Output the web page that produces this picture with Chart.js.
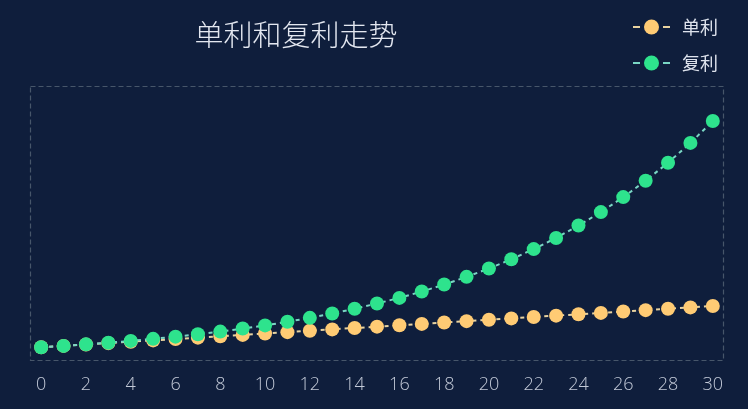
<!DOCTYPE html>
<html>
<head>
<meta charset="utf-8">
<script src="https://cdn.jsdelivr.net/npm/chart.js@4"></script>
<style>
html,body{margin:0;padding:0;background:#0f1e3c;}
#wrap{width:748px;height:409px;position:relative;}
</style>
</head>
<body>
<div id="wrap"><canvas id="c"></canvas></div>
<script>
const titleText = '单利和复利走势';
const years = ['0','1','2','3','4','5','6','7','8','9','10','11','12','13','14','15','16','17','18','19','20','21','22','23','24','25','26','27','28','29','30'];
const simpleLabel = '单利';
const compoundLabel = '复利';
const simpleValues = [1,1.1,1.2,1.3,1.4,1.5,1.6,1.7,1.8,1.9,2,2.1,2.2,2.3,2.4,2.5,2.6,2.7,2.8,2.9,3,3.1,3.2,3.3,3.4,3.5,3.6,3.7,3.8,3.9,4];
const compoundValues = [1,1.1,1.21,1.33,1.46,1.61,1.77,1.95,2.14,2.36,2.59,2.85,3.14,3.45,3.8,4.18,4.59,5.05,5.56,6.12,6.73,7.4,8.14,8.95,9.85,10.83,11.92,13.11,14.42,15.86,17.45];
const yMin = 0, yMax = 20;

const simpleColor = '#ffcb74';
const simpleLine = '#e9d3a0';
const compoundColor = '#2ee38d';
const compoundLine = '#79d6c4';

const decor = {
  id: 'decor',
  beforeDraw(chart) {
    const {ctx, chartArea: a} = chart;
    ctx.save();
    ctx.strokeStyle = '#47566a';
    ctx.lineWidth = 1.2;
    ctx.setLineDash([5, 3]);
    ctx.strokeRect(a.left + 0.5, a.top + 0.5, a.right - a.left - 1, a.bottom - a.top - 1);
    ctx.restore();
  },
  afterDraw(chart) {
    const ctx = chart.ctx;
    ctx.save();
    ctx.fillStyle = '#e3e7f0';
    ctx.font = '300 29px "Noto Sans CJK SC", sans-serif';
    ctx.textAlign = 'center';
    ctx.textBaseline = 'middle';
    ctx.fillText(titleText, 296, 35);
    const items = [
      {text: chart.data.datasets[0].label, point: simpleColor, line: simpleLine, y: 27},
      {text: chart.data.datasets[1].label, point: compoundColor, line: compoundLine, y: 63}
    ];
    items.forEach(it => {
      ctx.strokeStyle = it.line;
      ctx.lineWidth = 2;
      ctx.setLineDash([]);
      ctx.beginPath();
      ctx.moveTo(633, it.y); ctx.lineTo(640, it.y);
      ctx.moveTo(663, it.y); ctx.lineTo(670, it.y);
      ctx.stroke();
      ctx.fillStyle = it.point;
      ctx.beginPath();
      ctx.arc(651.5, it.y, 7.5, 0, Math.PI * 2);
      ctx.fill();
      ctx.fillStyle = '#dde2ec';
      ctx.font = '18px "Noto Sans CJK SC", sans-serif';
      ctx.textAlign = 'left';
      ctx.fillText(it.text, 682, it.y);
    });
    ctx.restore();
  }
};

new Chart(document.getElementById('c'), {
  type: 'line',
  data: {
    labels: years,
    datasets: [
      {
        label: simpleLabel,
        data: simpleValues,
        borderColor: simpleLine,
        borderWidth: 2,
        borderDash: [4, 4],
        pointRadius: 7,
        pointHoverRadius: 7,
        pointBackgroundColor: simpleColor,
        pointBorderWidth: 0,
        tension: 0,
        order: 1
      },
      {
        label: compoundLabel,
        data: compoundValues,
        borderColor: compoundLine,
        borderWidth: 2,
        borderDash: [4, 4],
        pointRadius: 7,
        pointHoverRadius: 7,
        pointBackgroundColor: compoundColor,
        pointBorderWidth: 0,
        tension: 0,
        order: 0
      }
    ]
  },
  options: {
    responsive: true,
    maintainAspectRatio: false,
    animation: false,
    layout: {padding: {top: 86, left: 30, right: 24, bottom: 0}},
    plugins: {legend: {display: false}, title: {display: false}, tooltip: {enabled: false}},
    scales: {
      x: {
        offset: true,
        grid: {display: false, drawTicks: false},
        border: {display: false},
        ticks: {
          autoSkip: false,
          maxRotation: 0,
          padding: 15,
          color: '#c3cad8',
          font: {size: 18, family: '"Open Sans", "Noto Sans", sans-serif', weight: '300', lineHeight: 1.0},
          callback: function(v, i) { return i % 2 === 0 ? this.getLabelForValue(v) : ''; }
        }
      },
      y: {display: false, min: yMin, max: yMax}
    }
  },
  plugins: [decor]
});
</script>
</body>
</html>
